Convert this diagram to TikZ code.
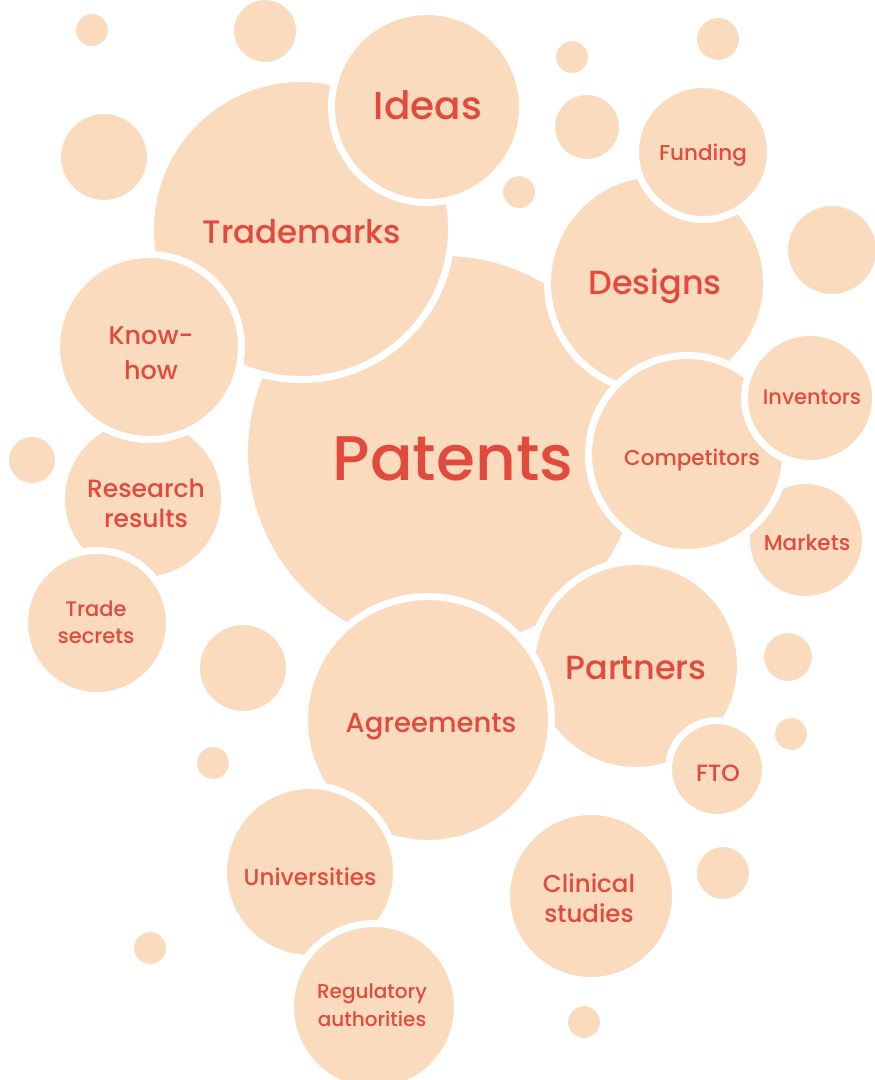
\documentclass[tikz,border=0pt]{standalone}
\usepackage{fontspec}
\IfFontExistsTF{Poppins Medium}{\setmainfont{Poppins Medium}}{\setmainfont{Poppins}}
\definecolor{peach}{RGB}{250,219,190}
\definecolor{txtred}{RGB}{226,74,62}
\tikzset{
  bub/.style={circle, fill=peach, draw=white, line width=7pt, inner sep=0pt, minimum size=#1},
  lbl/.style={text=txtred, align=center, inner sep=0pt},
  fs/.style n args={2}{font=\fontsize{#1}{#2}\selectfont}
}
\begin{document}
\begin{tikzpicture}[x=1pt,y=-1pt]
\useasboundingbox (0,0) rectangle (875,1080);
% main bubbles (size = 2r+7)
\node[bub=399pt] (patents) at (444,452) {};
\node[bub=301pt] (trademarks) at (301,229) {};
\node[bub=191pt] (ideas) at (427,107) {};
\node[bub=163pt] (research) at (143,499) {};
\node[bub=185pt] (knowhow) at (149,347) {};
\node[bub=145pt] (trade) at (97,623) {};
\node[bub=219pt] (designs) at (657,283) {};
\node[bub=135pt] (funding) at (703,152) {};
\node[bub=119pt] (markets) at (806,540) {};
\node[bub=197pt] (competitors) at (687,454) {};
\node[bub=131pt] (inventors) at (810,398) {};
\node[bub=209pt] (partners) at (636,666) {};
\node[bub=247pt] (agreements) at (428,720) {};
\node[bub=97pt] (fto) at (717,769) {};
\node[bub=173pt] (universities) at (310,872) {};
\node[bub=167pt] (regulatory) at (374,1007) {};
\node[bub=169pt] (clinical) at (591,896) {};
% small bubbles
\node[bub=39pt] (s1) at (92,30) {};
\node[bub=69pt] (s2) at (265,31) {};
\node[bub=93pt] (s3) at (104,157) {};
\node[bub=39pt] (s4) at (572,57) {};
\node[bub=71pt] (s5) at (587,127) {};
\node[bub=49pt] (s6) at (718,39) {};
\node[bub=39pt] (s7) at (519,192) {};
\node[bub=95pt] (s8) at (832,250) {};
\node[bub=53pt] (s9) at (32,460) {};
\node[bub=93pt] (s10) at (243,668) {};
\node[bub=39pt] (s11) at (213,763) {};
\node[bub=55pt] (s12) at (788,657) {};
\node[bub=39pt] (s13) at (791,734) {};
\node[bub=59pt] (s14) at (723,873) {};
\node[bub=39pt] (s15) at (150,948) {};
\node[bub=39pt] (s16) at (584,1022) {};
% labels
\node[lbl, fs={63}{68}] (patentsT) at (453,459) {Patents};
\node[lbl, fs={39}{44}] (ideasT) at (428,105) {Ideas};
\node[lbl, fs={32.5}{38}] (trademarksT) at (302,232) {Trademarks};
\node[lbl, fs={33.5}{38}] (designsT) at (655,286) {Designs};
\node[lbl, fs={33.5}{38}] (partnersT) at (636,668) {Partners};
\node[lbl, fs={25.5}{35}] (knowhowT) at (151,353) {Know-\\how};
\node[lbl, fs={27.5}{32}] (agreementsT) at (431,727) {Agreements};
\node[lbl, fs={25}{30}] (researchT) at (146,503) {Research\\results};
\node[lbl, fs={21}{27}] (tradeT) at (96,622) {Trade\\secrets};
\node[lbl, fs={21.5}{26}] (fundingT) at (703,155) {Funding};
\node[lbl, fs={21}{26}] (inventorsT) at (812,397) {Inventors};
\node[lbl, fs={21.5}{26}] (competitorsT) at (692,460) {Competitors};
\node[lbl, fs={21.5}{26}] (marketsT) at (807,543) {Markets};
\node[lbl, fs={23.5}{26}] (ftoT) at (718,773) {FTO};
\node[lbl, fs={23}{26}] (universitiesT) at (310,877) {Universities};
\node[lbl, fs={24.5}{30}] (clinicalT) at (589,898) {Clinical\\studies};
\node[lbl, fs={20}{28}] (regulatoryT) at (372,1005) {Regulatory\\authorities};
\end{tikzpicture}
\end{document}
